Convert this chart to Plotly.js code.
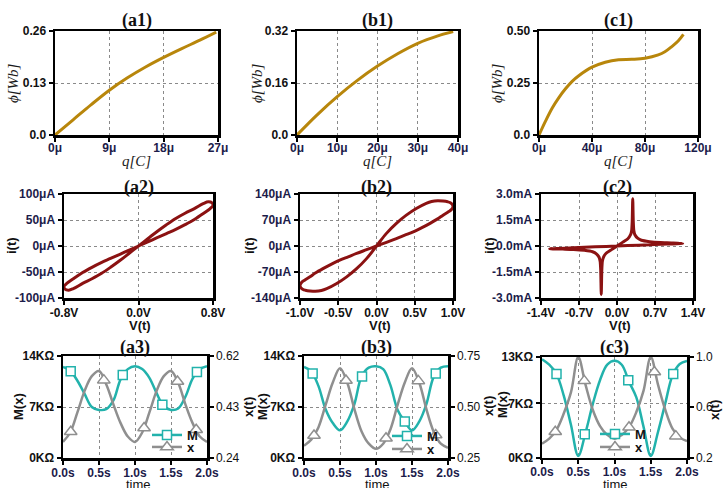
<!DOCTYPE html>
<html><head><meta charset="utf-8">
<script src="https://cdn.plot.ly/plotly-3.0.1.min.js"></script>
<style>html,body{margin:0;padding:0;background:#fff;}#chart{width:723px;height:488px;}</style>
</head><body><div id="chart"></div>
<script>
// ---------- DATA ----------
// Row 1: flux vs charge (q in μC, phi in Wb)
const a1_q   = [0, 3, 6, 9, 12, 15, 18, 21, 24, 26.7];
const a1_phi = [0, 0.038, 0.076, 0.112, 0.143, 0.170, 0.194, 0.216, 0.237, 0.257];
const b1_q   = [0, 5, 10, 15, 20, 25, 30, 35, 38.8];
const b1_phi = [0, 0.062, 0.118, 0.168, 0.212, 0.250, 0.282, 0.305, 0.318];
const c1_q   = [0, 5, 10, 15, 20, 25, 30, 40, 50, 60, 70, 80, 90, 95, 100, 105, 109];
const c1_phi = [0, 0.068, 0.13, 0.18, 0.222, 0.258, 0.285, 0.326, 0.35, 0.362, 0.364, 0.369, 0.385, 0.40, 0.424, 0.452, 0.484];

// Row 2: pinched hysteresis loops (V in volts, i in μA / mA)
const a2_V = [0,0.1,0.2,0.3,0.4,0.5,0.6,0.7,0.77,0.8,0.79,0.75,0.7,0.6,0.5,0.4,0.3,0.2,0.1,0,-0.1,-0.2,-0.3,-0.4,-0.5,-0.6,-0.7,-0.75,-0.79,-0.8,-0.77,-0.7,-0.6,-0.5,-0.4,-0.3,-0.2,-0.1,0];
const a2_I = [0,8,16,24,32,41,51,63,72,78,83,85,82,72,63,53,41,28,14,0,-14,-28,-41,-53,-63,-72,-82,-85,-83,-78,-72,-63,-51,-41,-32,-24,-16,-8,0];
const b2_V = [0,0.13,0.26,0.37,0.48,0.6,0.7,0.8,0.87,0.94,0.98,1.0,0.99,0.96,0.93,0.87,0.8,0.72,0.65,0.52,0.39,0.26,0.13,0,-0.13,-0.26,-0.39,-0.52,-0.65,-0.72,-0.8,-0.87,-0.93,-0.96,-0.99,-1.0,-0.98,-0.94,-0.87,-0.8,-0.7,-0.6,-0.48,-0.37,-0.26,-0.13,0];
const b2_I = [0,10,20,29,38,50,61,73,83,92,98,106,112,117,119,121,122,120,115,101,83,61,34,0,-34,-61,-83,-101,-115,-120,-122,-121,-119,-117,-112,-106,-98,-92,-83,-73,-61,-50,-38,-29,-20,-10,0];
const c2_V = [0,0.4,0.8,1.21,1.0,0.8,0.6,0.45,0.38,0.33,0.31,0.30,0.29,0.28,0.27,0.25,0.2,0.12,0.05,0,-0.05,-0.12,-0.2,-0.25,-0.27,-0.28,-0.29,-0.30,-0.31,-0.33,-0.38,-0.45,-0.6,-0.8,-1.0,-1.24,-0.8,-0.4,0];
const c2_I = [0,0.05,0.1,0.15,0.18,0.2,0.25,0.33,0.45,0.65,0.9,1.4,2.72,1.4,0.9,0.65,0.42,0.25,0.1,0,-0.1,-0.25,-0.42,-0.65,-0.9,-1.4,-2.8,-1.4,-0.9,-0.65,-0.45,-0.33,-0.25,-0.2,-0.18,-0.16,-0.1,-0.05,0];

// Row 3: memristance M (KΩ) and state x vs time (s)
const t3 = [0,0.1,0.2,0.3,0.4,0.5,0.6,0.7,0.8,0.9,1.0,1.1,1.2,1.3,1.4,1.5,1.6,1.7,1.8,1.9,2.0];
const a3_M = [12.5,12.0,10.6,8.8,7.0,6.6,6.7,7.9,10.8,12.2,12.6,12.2,11.0,8.9,7.1,6.6,6.8,8.4,10.9,12.2,12.6];
const a3_x = [0.30,0.335,0.41,0.49,0.545,0.564,0.515,0.44,0.37,0.32,0.30,0.335,0.41,0.49,0.545,0.564,0.52,0.44,0.37,0.32,0.30];
const b3_M = [12.5,11.9,9.9,6.7,4.8,3.8,5.0,7.4,11.2,12.4,12.6,12.2,10.0,6.6,5.0,3.8,5.0,7.4,11.1,12.4,12.6];
const b3_x = [0.31,0.34,0.40,0.51,0.62,0.69,0.62,0.49,0.38,0.32,0.295,0.32,0.39,0.51,0.62,0.69,0.62,0.49,0.38,0.32,0.30];
const c3_M = [12.7,12.0,10.8,8.0,4.2,0.2,3.2,6.9,10.0,12.0,12.5,12.0,9.8,7.8,4.0,0.2,3.3,7.0,10.6,12.1,12.5];
const c3_x = [0.31,0.35,0.42,0.55,0.72,1.0,0.78,0.58,0.45,0.38,0.35,0.38,0.44,0.56,0.73,1.0,0.78,0.58,0.43,0.36,0.33];
// marker samples on the curves
const a3_Mmk_t = [0.107,0.83,1.38,1.86],        a3_Mmk = [11.9,11.4,7.3,11.8];
const a3_xmk_t = [0.107,0.567,1.126,1.59,1.85], a3_xmk = [0.338,0.53,0.352,0.525,0.345];
const b3_Mmk_t = [0.12,0.806,1.40,1.83],        b3_Mmk = [11.6,11.2,5.0,11.6];
const b3_xmk_t = [0.139,0.583,1.139,1.588,1.829], b3_xmk = [0.36,0.63,0.347,0.628,0.363];
const c3_Mmk_t = [0.2,0.59,1.19,1.81],          c3_Mmk = [10.8,3.0,10.0,10.8];
const c3_xmk_t = [0.183,0.583,1.2,1.55,1.846],  c3_xmk = [0.405,0.81,0.44,0.88,0.37];

// Tick values / labels
const a1_xt = [0,9,18,27],  a1_xl = ['0μ','9μ','18μ','27μ'];
const a1_yt = [0,0.13,0.26], a1_yl = ['0.0','0.13','0.26'];
const b1_xt = [0,10,20,30,40], b1_xl = ['0μ','10μ','20μ','30μ','40μ'];
const b1_yt = [0,0.16,0.32], b1_yl = ['0.0','0.16','0.32'];
const c1_xt = [0,40,80,120], c1_xl = ['0μ','40μ','80μ','120μ'];
const c1_yt = [0,0.25,0.5], c1_yl = ['0.0','0.25','0.50'];
const a2_xt = [-0.8,0,0.8], a2_xl = ['-0.8V','0.0V','0.8V'];
const a2_yt = [-100,-50,0,50,100], a2_yl = ['-100μA','-50μA','0μA','50μA','100μA'];
const b2_xt = [-1,-0.5,0,0.5,1], b2_xl = ['-1.0V','-0.5V','0.0V','0.5V','1.0V'];
const b2_yt = [-140,-70,0,70,140], b2_yl = ['-140μA','-70μA','0μA','70μA','140μA'];
const c2_xt = [-1.4,-0.7,0,0.7,1.4], c2_xl = ['-1.4V','-0.7V','0.0V','0.7V','1.4V'];
const c2_yt = [-3,-1.5,0,1.5,3], c2_yl = ['-3.0mA','-1.5mA','0.0mA','1.5mA','3.0mA'];
const r3_xt = [0,0.5,1,1.5,2], r3_xl = ['0.0s','0.5s','1.0s','1.5s','2.0s'];
const a3_yt = [0,7,14], a3_yl = ['0KΩ','7KΩ','14KΩ'];
const a3_rt = [0.24,0.43,0.62], a3_rl = ['0.24','0.43','0.62'];
const b3_yt = [0,7,14], b3_yl = ['0KΩ','7KΩ','14KΩ'];
const b3_rt = [0.25,0.5,0.75], b3_rl = ['0.25','0.50','0.75'];
const c3_yt = [0,7,13], c3_yl = ['0KΩ','7KΩ','13KΩ'];
const c3_rt = [0.2,0.6,1.0], c3_rl = ['0.2','0.6','1.0'];

// ---------- LAYOUT HELPERS ----------
const W = 723, H = 488;
const PX = v => v / W, PY = v => 1 - v / H;
const SANS = 'Liberation Sans, Arial, sans-serif';
const SERIF = 'Liberation Serif, Times New Roman, serif';
const GOLD = '#b8860b', RED = '#8b1212', TEAL = '#22b2ac', GRAY = '#8f8f8f';
const tfB = {family: SANS, size: 12, color: '#111', weight: 'bold'};
const tfN = {family: SANS, size: 12, color: '#1c1c4a', weight: 'bold'};
const tfR = {family: SANS, size: 12, color: '#111'};

const boxes = {
  a1:[55,218,31,135], b1:[297,458,31,135], c1:[539,698,31,135],
  a2:[64,213,194,298], b2:[300,453,194,298], c2:[541,693,194,298],
  a3:[63,207,356,458], b3:[304,448,356,458], c3:[542,687,357,457.5]
};
function base() {
  return {showline:true, linewidth:2.5, linecolor:'#000', mirror:true,
    ticks:'outside', ticklen:4, tickwidth:2, tickcolor:'#000',
    showgrid:true, gridcolor:'#8a8a8a', gridwidth:1, griddash:'3px,3px',
    zeroline:false, tickmode:'array', fixedrange:true};
}
function xax(b, range, tv, tt, font, anchor, extra) {
  return Object.assign(base(), {domain:[PX(b[0]), PX(b[1])], range:range, tickvals:tv, ticktext:tt, tickfont:font, anchor:anchor}, extra || {});
}
function yax(b, range, tv, tt, font, anchor) {
  return Object.assign(base(), {domain:[PY(b[3]), PY(b[2])], range:range, tickvals:tv, ticktext:tt, tickfont:font, anchor:anchor});
}
function yright(over, anchor, range, tv, tt) {
  return {overlaying:over, anchor:anchor, side:'right', range:range, tickmode:'array', tickvals:tv, ticktext:tt,
    tickfont:tfR, showline:true, linewidth:2.5, linecolor:'#000', ticks:'outside', ticklen:4, tickwidth:2,
    tickcolor:'#000', showgrid:false, zeroline:false, fixedrange:true};
}
const up = {ticklabelstandoff:-4};
const up2 = {ticklabelstandoff:-2};
const up3 = {ticklabelstandoff:-2};

const layout = {
  width:W, height:H, margin:{l:0,r:0,t:0,b:0}, paper_bgcolor:'#fff', plot_bgcolor:'#fff',
  showlegend:true,
  xaxis:  xax(boxes.a1, [0,27], a1_xt, a1_xl, tfN, 'y', up),
  yaxis:  yax(boxes.a1, [0,0.26], a1_yt, a1_yl, tfB, 'x'),
  xaxis2: xax(boxes.b1, [0,40], b1_xt, b1_xl, tfN, 'y2', up),
  yaxis2: yax(boxes.b1, [0,0.32], b1_yt, b1_yl, tfB, 'x2'),
  xaxis3: xax(boxes.c1, [0,120], c1_xt, c1_xl, tfN, 'y3', up),
  yaxis3: yax(boxes.c1, [0,0.5], c1_yt, c1_yl, tfB, 'x3'),
  xaxis4: xax(boxes.a2, [-0.8,0.8], a2_xt, a2_xl, tfB, 'y4', up2),
  yaxis4: yax(boxes.a2, [-100,100], a2_yt, a2_yl, tfN, 'x4'),
  xaxis5: xax(boxes.b2, [-1,1], b2_xt, b2_xl, tfB, 'y5', up2),
  yaxis5: yax(boxes.b2, [-140,140], b2_yt, b2_yl, tfN, 'x5'),
  xaxis6: xax(boxes.c2, [-1.4,1.4], c2_xt, c2_xl, tfB, 'y6', up2),
  yaxis6: yax(boxes.c2, [-3,3], c2_yt, c2_yl, tfN, 'x6'),
  xaxis7: xax(boxes.a3, [0,2], r3_xt, r3_xl, tfN, 'y7', up3),
  yaxis7: yax(boxes.a3, [0,14], a3_yt, a3_yl, tfB, 'x7'),
  xaxis8: xax(boxes.b3, [0,2], r3_xt, r3_xl, tfN, 'y8', up3),
  yaxis8: yax(boxes.b3, [0,14], b3_yt, b3_yl, tfB, 'x8'),
  xaxis9: xax(boxes.c3, [0,2], r3_xt, r3_xl, tfN, 'y9', up3),
  yaxis9: yax(boxes.c3, [0,13], c3_yt, c3_yl, tfB, 'x9'),
  yaxis10: yright('y7', 'x7', [0.24,0.62], a3_rt, a3_rl),
  yaxis11: yright('y8', 'x8', [0.25,0.75], b3_rt, b3_rl),
  yaxis12: yright('y9', 'x9', [0.2,1.0], c3_rt, c3_rl),
  annotations: []
};

// legends (one per entry so the rows sit close together)
function leg(x, y) {
  return {x:PX(x), y:PY(y), xanchor:'left', yanchor:'middle', bgcolor:'rgba(0,0,0,0)', borderwidth:0,
    font:{family:SANS, size:13, weight:'bold', color:'#111'}, itemwidth:30, itemclick:false};
}
layout.legend  = leg(147, 435);
layout.legend2 = leg(147, 447);
layout.legend3 = leg(387, 436);
layout.legend4 = leg(387, 449);
layout.legend5 = leg(595, 434);
layout.legend6 = leg(595, 447);

function ann(text, x, y, font, angle) {
  layout.annotations.push({text:text, x:PX(x), y:PY(y), xref:'paper', yref:'paper', showarrow:false,
    xanchor:'center', yanchor:'middle', textangle:angle || 0, font:font});
}
const titleF = {family:SERIF, size:18, color:'#111', weight:'bold'};
[['(a1)',136.5,20],['(b1)',377.5,20],['(c1)',618.5,20],
 ['(a2)',138.5,187],['(b2)',376.5,187],['(c2)',617,187],
 ['(a3)',135,347.5],['(b3)',376,347.5],['(c3)',614.5,347.5]].forEach(a => ann(a[0], a[1], a[2], titleF));
const itF = {family:SERIF, size:15, color:'#1a1a1a', style:'italic'};
[[13,83],[257,83],[497,83]].forEach(p => ann('ϕ[Wb]', p[0], p[1], itF, -90));
[[136.5,161],[377.5,161],[618.5,161]].forEach(p => ann('q[C]', p[0], p[1], itF));
const bF = {family:SANS, size:13, color:'#111', weight:'bold'};
[[12,246],[250,246],[490,246]].forEach(p => ann('i(t)', p[0], p[1], bF, -90));
[[140,325],[380,325],[620,325]].forEach(p => ann('V(t)', p[0], p[1], bF));
[[18,407],[262,407],[502,405]].forEach(p => ann('M(x)', p[0], p[1], bF, -90));
[[248,407],[488,406],[714,410]].forEach(p => ann('x(t)', p[0], p[1], bF, -90));
const rF = {family:SANS, size:13, color:'#111'};
[[138,484],[377,484],[615,484]].forEach(p => ann('time', p[0], p[1], rF));

// ---------- TRACES ----------
const traces = [];
function line(x, y, xa, ya, color, width, smooth) {
  traces.push({x:x, y:y, xaxis:xa, yaxis:ya, mode:'lines', showlegend:false, hoverinfo:'skip',
    line:{color:color, width:width, shape:'spline', smoothing:smooth}});
}
line(a1_q, a1_phi, 'x', 'y', GOLD, 3, 1);
line(b1_q, b1_phi, 'x2', 'y2', GOLD, 3, 1);
line(c1_q, c1_phi, 'x3', 'y3', GOLD, 3, 1);
line(a2_V, a2_I, 'x4', 'y4', RED, 3, 1);
line(b2_V, b2_I, 'x5', 'y5', RED, 3, 1);
line(c2_V, c2_I, 'x6', 'y6', RED, 3, 0.6);

const mkM = {symbol:'square', size:9, color:'#fff', line:{color:TEAL, width:1.5}};
const mkX = {symbol:'triangle-up', size:11, color:'#fff', line:{color:GRAY, width:1.5}};
function row3(M, xv, tMm, Mm, txm, xm, xa, yl, yr, lg1, lg2) {
  line(t3, M, xa, yl, TEAL, 2.5, 1);
  traces.push({x:tMm, y:Mm, xaxis:xa, yaxis:yl, mode:'markers', marker:mkM, showlegend:false, hoverinfo:'skip'});
  line(t3, xv, xa, yr, GRAY, 2.5, 1);
  traces.push({x:txm, y:xm, xaxis:xa, yaxis:yr, mode:'markers', marker:mkX, showlegend:false, hoverinfo:'skip'});
  traces.push({x:[null], y:[null], xaxis:xa, yaxis:yl, mode:'lines+markers', name:'M', legend:lg1,
    line:{color:TEAL, width:2.5}, marker:mkM, showlegend:true});
  traces.push({x:[null], y:[null], xaxis:xa, yaxis:yl, mode:'lines+markers', name:'x', legend:lg2,
    line:{color:GRAY, width:2.5}, marker:mkX, showlegend:true});
}
row3(a3_M, a3_x, a3_Mmk_t, a3_Mmk, a3_xmk_t, a3_xmk, 'x7', 'y7', 'y10', 'legend', 'legend2');
row3(b3_M, b3_x, b3_Mmk_t, b3_Mmk, b3_xmk_t, b3_xmk, 'x8', 'y8', 'y11', 'legend3', 'legend4');
row3(c3_M, c3_x, c3_Mmk_t, c3_Mmk, c3_xmk_t, c3_xmk, 'x9', 'y9', 'y12', 'legend5', 'legend6');

Plotly.newPlot('chart', traces, layout, {staticPlot:true, displayModeBar:false});
</script></body></html>
